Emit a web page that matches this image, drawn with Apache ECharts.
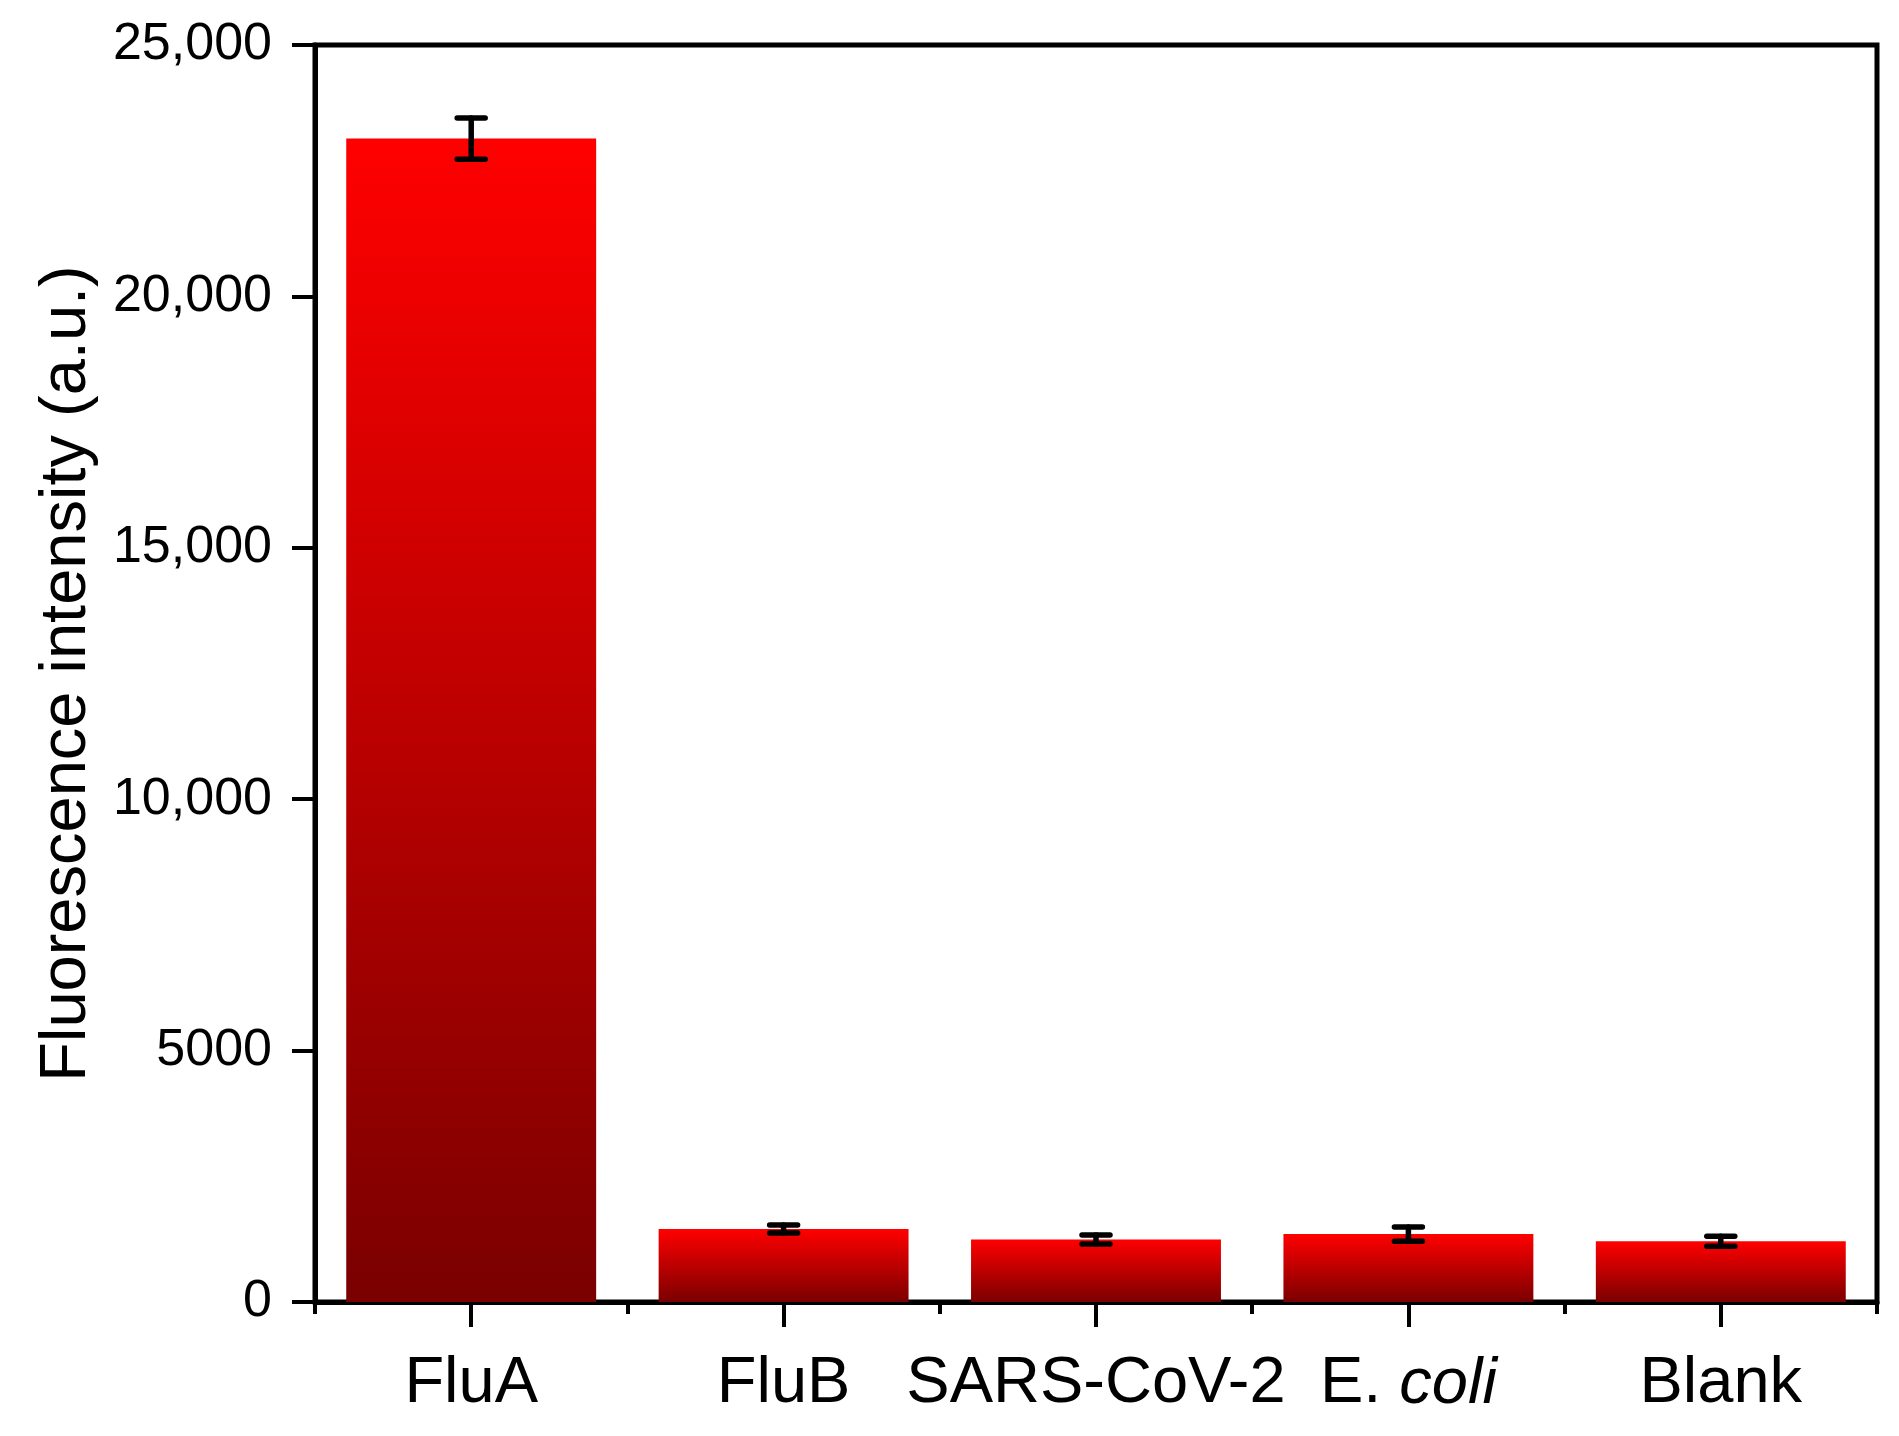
<!DOCTYPE html>
<html>
<head>
<meta charset="utf-8">
<script src="https://cdn.jsdelivr.net/npm/echarts@6/dist/echarts.min.js"></script>
<style>
  html, body { margin: 0; padding: 0; background: #fff; }
  #chart { width: 1899px; height: 1436px; }
</style>
</head>
<body>
<div id="chart"></div>
<script>
const categories = ['FluA', 'FluB', 'SARS-CoV-2', 'E. coli', 'Blank']
const intensity = [23140, 1450, 1245, 1350, 1210]
const errors = [410, 80, 90, 140, 100]
const yTickLabels = ['0', '5000', '10,000', '15,000', '20,000', '25,000']

const FONT = '"Liberation Sans", Arial, sans-serif'

const chart = echarts.init(document.getElementById('chart'))

const errorData = intensity.map((v, i) => [i, v - errors[i], v + errors[i]])

const renderError = (params, api) => {
  const lo = api.coord([api.value(0), api.value(1)])
  const hi = api.coord([api.value(0), api.value(2)])
  const half = 14
  const style = { stroke: '#000', lineWidth: 5.5, lineCap: 'round' }
  return {
    type: 'group',
    children: [
      { type: 'line', shape: { x1: hi[0], y1: hi[1], x2: lo[0], y2: lo[1] }, style },
      { type: 'line', shape: { x1: hi[0] - half, y1: hi[1], x2: hi[0] + half, y2: hi[1] }, style },
      { type: 'line', shape: { x1: lo[0] - half, y1: lo[1], x2: lo[0] + half, y2: lo[1] }, style }
    ]
  }
}

chart.setOption({
  animation: false,
  backgroundColor: '#fff',
  grid: {
    left: 315, right: 22, top: 45, bottom: 134,
    show: true, borderColor: '#000', borderWidth: 5
  },
  xAxis: [
    {
      type: 'category',
      data: categories,
      position: 'bottom',
      axisLine: { show: true, lineStyle: { color: '#000', width: 5 } },
      axisTick: { show: true, alignWithLabel: true, length: 25, lineStyle: { color: '#000', width: 4 } },
      axisLabel: {
        color: '#000', fontFamily: FONT, fontSize: 65, margin: 50, interval: 0,
        formatter: v => v === 'E. coli' ? '{n|E. }{i|coli}' : v,
        rich: {
          n: { fontFamily: FONT, fontSize: 65, color: '#000' },
          i: { fontFamily: FONT, fontSize: 65, color: '#000', fontStyle: 'italic' }
        }
      }
    },
    {
      type: 'category',
      data: categories,
      position: 'bottom',
      axisLine: { show: false },
      axisTick: { show: true, length: 12, lineStyle: { color: '#000', width: 4 } },
      axisLabel: { show: false }
    }
  ],
  yAxis: {
    type: 'value',
    min: 0, max: 25000, interval: 5000,
    name: 'Fluorescence intensity (a.u.)',
    nameLocation: 'middle',
    nameGap: 215,
    nameTextStyle: { color: '#000', fontFamily: FONT, fontSize: 65 },
    axisLine: { show: true, lineStyle: { color: '#000', width: 5 } },
    axisTick: { show: true, length: 23, lineStyle: { color: '#000', width: 4 } },
    axisLabel: {
      color: '#000', fontFamily: FONT, fontSize: 52, margin: 43,
      formatter: v => yTickLabels[Math.round(v / 5000)]
    },
    splitLine: { show: false }
  },
  series: [
    {
      type: 'bar',
      data: intensity,
      barWidth: '80%',
      itemStyle: {
        color: new echarts.graphic.LinearGradient(0, 0, 0, 1, [
          { offset: 0, color: '#FF0000' },
          { offset: 1, color: '#7A0000' }
        ])
      }
    },
    {
      type: 'custom',
      data: errorData,
      renderItem: renderError,
      encode: { x: 0, y: [1, 2] },
      z: 10
    }
  ]
})
</script>
</body>
</html>
